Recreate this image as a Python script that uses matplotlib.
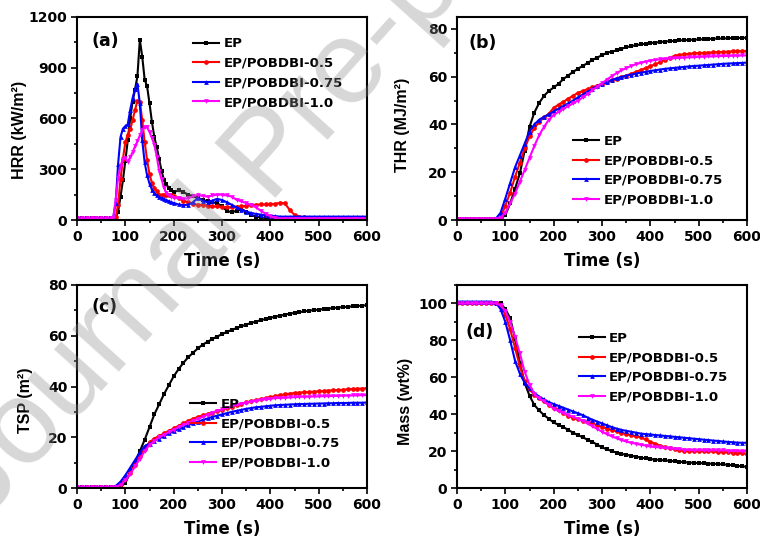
import numpy as np
import matplotlib
matplotlib.use("Agg")
import matplotlib.pyplot as plt
from matplotlib.ticker import MultipleLocator

plt.rcParams['font.family'] = ['DejaVu Sans']
plt.rcParams['font.weight'] = 'bold'

labels = ['EP', 'EP/POBDBI-0.5', 'EP/POBDBI-0.75', 'EP/POBDBI-1.0']
colors = ['#000000', '#ff0000', '#0000ff', '#ff00ff']
markers = ['s', 'o', '^', 'v']

# ---- (a) HRR ----
t_hrr = list(range(0, 80, 10)) + list(range(75, 205, 5)) + list(range(210, 610, 10))
hrr_ep = ([10] * 8 +
          [10, 12, 49, 138, 235, 350, 470, 600, 700, 770, 850, 1065, 965, 830, 790, 690, 580, 490, 430, 360,
           290, 235, 210, 190, 175, 165] +
          [175, 165, 150, 140, 130, 120, 110, 105, 100, 80, 55, 45, 55, 65, 50, 30, 20, 15] + [12] * 22)
hrr_05 = ([10] * 8 +
          [10, 15, 90, 240, 360, 460, 505, 535, 590, 650, 705, 700, 590, 460, 355, 270, 220, 190, 170, 150,
           145, 145, 150, 150, 145, 140] +
          [130, 115, 105, 95, 90, 88, 85, 80, 80, 78, 75, 75, 78, 80, 85, 88, 90, 92, 92, 95, 95, 102, 98,
           60, 30, 20, 15] + [12] * 13)
hrr_075 = ([12] * 8 +
           [15, 100, 330, 490, 540, 555, 565, 650, 720, 775, 805, 690, 470, 340, 265, 215, 180, 160, 145, 135,
            128, 122, 118, 110, 105, 100] +
           [92, 88, 90, 105, 130, 115, 105, 115, 125, 118, 105, 90, 75, 60, 50, 42, 36, 32, 28, 25, 23] + [20] * 19)
hrr_10 = ([10] * 8 +
          [12, 120, 250, 320, 360, 365, 345, 370, 400, 435, 465, 500, 530, 550, 548, 520, 485, 445, 375, 290,
           240, 190, 160, 145, 138, 132] +
          [128, 125, 128, 140, 148, 142, 138, 145, 150, 150, 145, 138, 120, 110, 100, 90, 75, 55, 38, 22, 12] + [8] * 19)

# ---- (b)-(d) common time base ----
t = list(range(0, 610, 10))

thr_ep = ([0.5] * 10 +
          [2, 7, 13, 19.5, 29, 39, 45, 49, 52, 54, 55.5, 57, 59, 60.5, 62, 63.3, 64.5, 65.7, 67, 68, 69, 70, 70.5,
           71, 71.7, 72.3, 72.8, 73.2, 73.5, 73.8, 74.1, 74.3, 74.5, 74.7, 74.9, 75, 75.2, 75.3, 75.4, 75.5, 75.6,
           75.7, 75.8, 75.9, 76, 76, 76.1, 76.2, 76.2, 76.3, 76.3])
thr_05 = ([0.5] * 9 +
          [1, 6, 11.5, 18, 24, 30, 35, 38.5, 41, 43, 44.5, 47, 48.3, 49.5, 50.8, 52, 53.2, 54, 54.8, 55.5, 56.3,
           57, 57.8, 58.5, 59.2, 59.8, 60.5, 61.2, 62, 62.8, 63.6, 64.4, 65.2, 66, 67, 68, 68.7, 69.1, 69.4, 69.6,
           69.8, 69.9, 70, 70.1, 70.2, 70.3, 70.4, 70.5, 70.6, 70.6, 70.7, 70.8])
thr_075 = ([0.5] * 9 +
           [3, 9, 15.5, 22, 27, 32, 37, 40, 42, 43.2, 44.2, 45.5, 46.6, 47.7, 48.8, 50, 51.3, 52.5, 53.7, 54.9, 56,
            57, 57.8, 58.6, 59.3, 59.9, 60.4, 60.9, 61.3, 61.7, 62, 62.4, 62.7, 63, 63.3, 63.5, 63.7, 63.9, 64.1,
            64.3, 64.5, 64.6, 64.8, 64.9, 65.1, 65.2, 65.4, 65.5, 65.6, 65.7, 65.8, 65.9])
thr_10 = ([0.5] * 9 +
          [1, 3, 7, 11, 16, 21, 26, 31, 35.5, 39, 42, 44, 45.3, 46.5, 47.7, 48.8, 50, 51.3, 52.8, 54.3, 55.8, 57.3,
           58.8, 60.2, 61.5, 62.6, 63.6, 64.5, 65.2, 65.8, 66.3, 66.7, 67, 67.3, 67.5, 67.7, 67.8, 67.9, 68, 68.1,
           68.2, 68.3, 68.4, 68.5, 68.5, 68.6, 68.7, 68.7, 68.8, 68.8, 68.9, 68.9])

tsp_ep = ([0.3] * 10 +
          [2, 6, 10, 14.5, 19, 24, 29, 33, 37, 40.5, 44, 46.8, 49.3, 51.5, 53.3, 55, 56.5, 57.6, 58.7, 59.7, 60.6,
           61.5, 62.3, 63, 63.7, 64.4, 65, 65.6, 66.1, 66.6, 67.1, 67.5, 67.9, 68.3, 68.7, 69, 69.3, 69.6, 69.9,
           70.1, 70.3, 70.5, 70.7, 70.9, 71.1, 71.3, 71.4, 71.6, 71.7, 71.9, 72])
tsp_05 = ([0.3] * 8 +
          [0.5, 1.5, 3.5, 6, 9, 12.5, 15.5, 18, 19.5, 20.5, 21.5, 22.5, 23.5, 24.5, 25.5, 26.5, 27.3, 28, 28.6,
           29.2, 29.7, 30.3, 30.8, 31.4, 32, 32.6, 33.2, 33.7, 34.2, 34.6, 35, 35.4, 35.8, 36.2, 36.6, 36.9, 37.2,
           37.4, 37.6, 37.7, 37.8, 38, 38.1, 38.2, 38.4, 38.5, 38.6, 38.7, 38.9, 39, 39.1, 39.2, 39.3])
tsp_075 = ([0.3] * 8 +
           [0.8, 2.5, 5, 8, 11, 14, 16.5, 17.5, 18.5, 19.5, 20.5, 21.5, 22.3, 23.2, 24, 24.8, 25.5, 26.2, 26.8,
            27.4, 28, 28.5, 29, 29.5, 30, 30.4, 30.8, 31.2, 31.5, 31.8, 32, 32.2, 32.4, 32.6, 32.7, 32.8, 32.9, 33,
            33.1, 33.1, 33.2, 33.2, 33.3, 33.3, 33.4, 33.4, 33.5, 33.5, 33.5, 33.6, 33.6, 33.6, 33.7])
tsp_10 = ([0.3] * 8 +
          [0.4, 1.2, 3, 5.5, 8.5, 11.5, 14.5, 17, 18.5, 20, 21, 22, 23, 24, 24.8, 25.7, 26.5, 27.3, 28, 28.9,
           29.7, 30.4, 31, 31.6, 32.2, 32.7, 33.2, 33.6, 34, 34.4, 34.7, 35, 35.2, 35.4, 35.5, 35.6, 35.7, 35.8,
           35.9, 36, 36, 36.1, 36.1, 36.2, 36.2, 36.3, 36.3, 36.4, 36.4, 36.5, 36.5, 36.6, 36.6])

mass_ep = ([100] * 10 +
           [97, 92, 81, 68, 57, 50, 45, 42, 39.5, 37.5, 35.5, 34.2, 33, 31.5, 30, 28.7, 27.5, 26.2, 25, 23.5, 22,
            21, 20, 19.2, 18.5, 18, 17.5, 17, 16.5, 16, 15.7, 15.4, 15.2, 15, 14.7, 14.5, 14.2, 14, 13.8, 13.6,
            13.5, 13.4, 13.2, 13.1, 13, 12.8, 12.6, 12.3, 12, 11.7, 11.5])
mass_05 = ([100] * 9 +
           [98.5, 94, 86, 76, 66, 58, 53.5, 50.5, 48.5, 47, 45, 43.5, 42, 40.5, 39.2, 38, 37.2, 36.5, 35.7, 35, 34,
            33, 32.2, 31.5, 30.8, 30, 29.2, 28.5, 28, 27.5, 26.3, 25, 24, 23, 22.2, 21.5, 21, 20.5, 20.2, 20, 20,
            20, 20, 20, 19.8, 19.6, 19.5, 19.4, 19.2, 19, 18.8, 18.5])
mass_075 = ([101] * 8 +
            [100.5, 97, 90, 80, 69, 62, 57, 54, 51.5, 49.5, 48, 46.5, 45.5, 44.5, 43.5, 42.5, 41.5, 40.5, 39.5,
             38.2, 37, 36, 35, 34, 33, 32.2, 31.5, 31, 30.5, 30, 29.5, 29.2, 29, 28.7, 28.5, 28.2, 28, 27.7, 27.5,
             27.2, 27, 26.7, 26.5, 26.2, 26, 25.7, 25.5, 25.2, 25, 24.8, 24.6, 24.5, 24.5])
mass_10 = ([100] * 9 +
           [99, 96, 90, 82, 73, 63, 56, 51, 48.5, 47, 45, 43, 41.7, 40.5, 39.5, 38.5, 37.5, 36.3, 35, 33.5, 32,
            30.5, 29.2, 28, 27, 26, 25.2, 24.5, 24, 23.5, 23, 22.5, 22.2, 22, 21.7, 21.5, 21.2, 21, 20.8, 20.6,
            20.5, 20.5, 20.5, 20.5, 20.5, 20.5, 20.4, 20.3, 20.2, 20.1, 20, 20])

fig = plt.figure(figsize=(7.6, 5.41), dpi=100)
W, H = 760.0, 541.0


def make_ax(left, top):
    return fig.add_axes([left / W, 1 - (top + 203) / H, 290 / W, 203 / H])


panels = [
    dict(ax=make_ax(77, 17), x=t_hrr, ys=[hrr_ep, hrr_05, hrr_075, hrr_10], ylim=(0, 1200), major=300, minor=150,
         ylabel='HRR (kW/m²)', ylpos=(-0.172, 0.443), tag='(a)', tagpos=(0.05, 0.88), leg=(0.40, 0.90)),
    dict(ax=make_ax(457, 17), x=t, ys=[thr_ep, thr_05, thr_075, thr_10], ylim=(0, 85), major=20, minor=10,
         ylabel='THR (MJ/m²)', ylpos=(-0.162, 0.468), tag='(b)', tagpos=(0.04, 0.87), leg=(0.40, 0.42)),
    dict(ax=make_ax(77, 285), x=t, ys=[tsp_ep, tsp_05, tsp_075, tsp_10], ylim=(0, 80), major=20, minor=10,
         ylabel='TSP (m²)', ylpos=(-0.152, 0.433), tag='(c)', tagpos=(0.05, 0.89), leg=(0.39, 0.445)),
    dict(ax=make_ax(457, 285), x=t, ys=[mass_ep, mass_05, mass_075, mass_10], ylim=(0, 110), major=20, minor=10,
         ylabel='Mass (wt%)', ylpos=(-0.152, 0.426), tag='(d)', tagpos=(0.03, 0.77), leg=(0.42, 0.77)),
]

for p in panels:
    ax = p['ax']
    for y, lab, c, m in zip(p['ys'], labels, colors, markers):
        ax.plot(p['x'], y, color=c, marker=m, markersize=3.4, markeredgewidth=0, linewidth=1.5, label=lab)
    ax.set_xlim(0, 600)
    ax.set_ylim(*p['ylim'])
    ax.xaxis.set_major_locator(MultipleLocator(100))
    ax.xaxis.set_minor_locator(MultipleLocator(50))
    ax.yaxis.set_major_locator(MultipleLocator(p['major']))
    ax.yaxis.set_minor_locator(MultipleLocator(p['minor']))
    ax.tick_params(which='both', direction='out', top=False, right=False, labelsize=10, width=1.2)
    ax.tick_params(which='major', length=4, pad=3)
    ax.tick_params(which='minor', length=2.5)
    for s in ax.spines.values():
        s.set_linewidth(1.5)
    ax.set_xlabel('Time (s)', fontsize=12, fontweight='bold', labelpad=6)
    ax.set_ylabel(p['ylabel'], fontsize=11.5, fontweight='bold',
                  family=['Liberation Sans', 'DejaVu Sans'])
    ax.yaxis.set_label_coords(*p['ylpos'])
    ax.text(p['tagpos'][0], p['tagpos'][1], p['tag'], transform=ax.transAxes, fontsize=12.5,
            fontweight='bold', va='center', ha='left')
    ax.legend(loc='upper left', bbox_to_anchor=p['leg'], frameon=False, borderpad=0,
              handlelength=2.0, handletextpad=0.3, labelspacing=0.5, borderaxespad=0,
              prop={'weight': 'bold', 'size': 9.5})

fig.text(271 / W, 1 - 157 / H, 'Journal Pre-proof', fontsize=86, color='0.55', alpha=0.35,
         rotation=48, ha='center', va='center', fontweight='normal', zorder=10,
         family=['Liberation Sans', 'DejaVu Sans'])

fig.savefig('out.png', dpi=100)
